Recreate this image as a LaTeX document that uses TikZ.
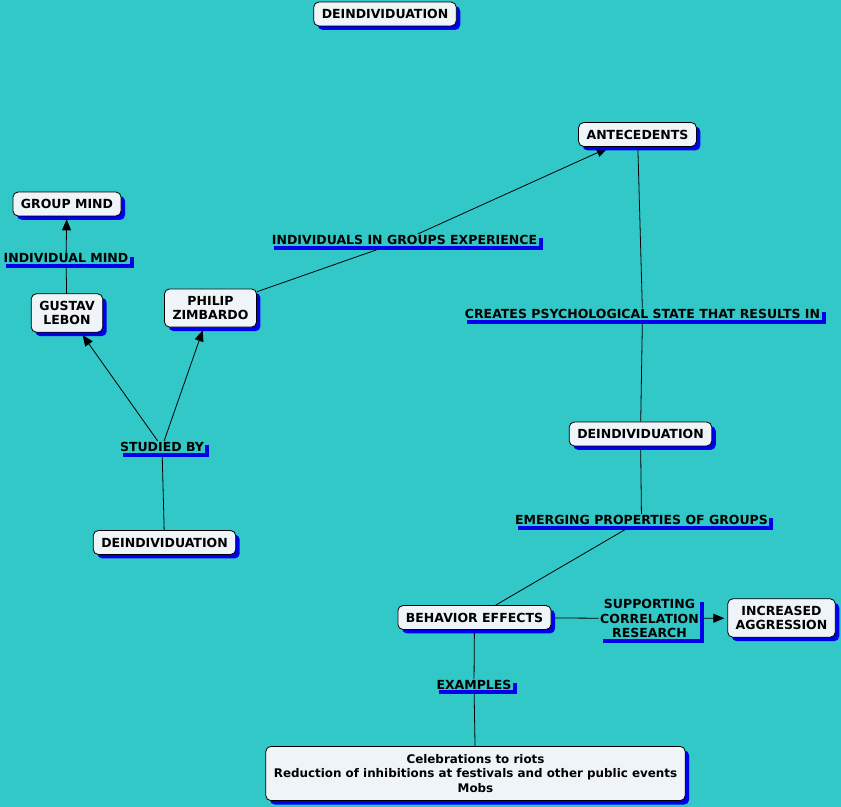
\documentclass[tikz,border=0pt]{standalone}
\usepackage{fontspec}
\setmainfont{DejaVu Sans}
\usetikzlibrary{shadows,arrows.meta}
\definecolor{bgteal}{RGB}{51,200,200}
\definecolor{nodefill}{RGB}{238,244,247}
\definecolor{shadowblue}{RGB}{0,0,235}
\pgfdeclarelayer{back}
\pgfdeclarelayer{lines}
\pgfsetlayers{back,lines,main}
\tikzset{
  cmfont/.style={font=\fontsize{12.5bp}{14.5bp}\selectfont\bfseries},
  concept/.style={cmfont, draw=black, line width=0.8bp, fill=nodefill,
    rounded corners=5bp, align=center, inner xsep=8bp, inner ysep=7.2bp,
    drop shadow={shadow xshift=4bp, shadow yshift=-4bp, fill=shadowblue, opacity=1}},
  smallfont/.style={font=\fontsize{11.9bp}{14.5bp}\selectfont\bfseries},
  linklabel/.style={cmfont, fill=bgteal, align=center, inner xsep=1.5bp, inner ysep=1bp,
    drop shadow={shadow xshift=4bp, shadow yshift=-4bp, fill=shadowblue, opacity=1}},
  conn/.style={draw=black, line width=0.8bp},
  arr/.style={conn, -{Triangle[length=11bp,width=9bp]}, shorten >=3bp},
}
\begin{document}
\begin{tikzpicture}[x=1bp, y=-1bp]
\useasboundingbox (0,0) rectangle (841,807);
\begin{pgfonlayer}{back}
  \fill[bgteal] (0,0) rectangle (841,807);
\end{pgfonlayer}

% concepts
\node[concept] (top)    at (385,14)    {DEINDIVIDUATION};
\node[concept] (ante)   at (637.5,134.5) {ANTECEDENTS};
\node[concept] (group)  at (67,204)    {GROUP MIND};
\node[concept] (gustav) at (67,313)    {GUSTAV\\LEBON};
\node[concept] (philip) at (210.5,308) {PHILIP\\ZIMBARDO};
\node[concept] (deindB) at (640.5,434) {DEINDIVIDUATION};
\node[concept] (deindC) at (164.5,542.5) {DEINDIVIDUATION};
\node[concept] (behav)  at (474.5,617.5) {BEHAVIOR EFFECTS};
\node[concept] (incr)   at (781.5,618) {INCREASED\\AGGRESSION};
\node[concept, smallfont, inner ysep=8bp] (celeb)  at (475.5,773.5) {Celebrations to riots\\Reduction of inhibitions at festivals and other public events\\Mobs};

% link labels
\node[linklabel] (lmind)    at (66,258.5)   {INDIVIDUAL MIND};
\node[linklabel] (lexp)     at (404.5,240)  {INDIVIDUALS IN GROUPS EXPERIENCE};
\node[linklabel] (lcreates) at (642.5,314)  {CREATES PSYCHOLOGICAL STATE THAT RESULTS IN};
\node[linklabel] (lstudied) at (162,447)    {STUDIED BY};
\node[linklabel] (lemerg)   at (641.5,520)  {EMERGING PROPERTIES OF GROUPS};
\node[linklabel] (lsupp)    at (649.5,618.5) {SUPPORTING\\CORRELATION\\RESEARCH};
\node[linklabel] (lex)      at (474,684.5)  {EXAMPLES};

% connectors
\begin{pgfonlayer}{lines}
  \draw[conn] (gustav) -- (lmind);
  \draw[arr]  (lmind) -- (group);
  \draw[conn] (deindC) -- (lstudied);
  \draw[arr]  (lstudied) -- (gustav);
  \draw[arr]  (lstudied) -- (philip);
  \draw[conn] (philip) -- (lexp);
  \draw[arr]  (lexp) -- (ante);
  \draw[conn] (ante) -- (lcreates);
  \draw[conn] (lcreates) -- (deindB);
  \draw[conn] (deindB) -- (lemerg);
  \draw[conn] (lemerg) -- (behav);
  \draw[conn] (behav) -- (lsupp);
  \draw[arr]  (lsupp) -- (incr);
  \draw[conn] (behav) -- (lex);
  \draw[conn] (lex) -- (celeb);
\end{pgfonlayer}
\end{tikzpicture}
\end{document}
